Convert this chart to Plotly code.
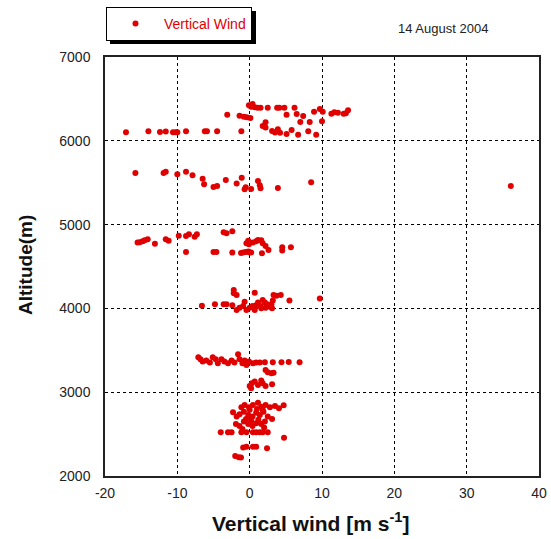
import plotly.graph_objects as go

# ---- data (vertical wind [m/s], altitude [m]) ----
wind_6000 = [-17.1,-14.0,-12.4,-11.6,-10.6,-10.2,-10.0,-8.8,-6.2,-5.9,-4.5,-3.1,-1.15,-1.4,-0.8,-0.4,0.1,-0.1,0.2,0.7,1.1,1.5,2.5,3.8,4.1,4.8,5.1,6.2,6.5,7.4,8.9,9.7,10.1,11.3,11.7,12.2,13.0,13.3,13.6,2.2,1.8,2.2,7.0,8.3,10.0,3.1,3.5,3.9,4.2,5.1,5.8,6.7,8.1,9.2,0.4]
alt_6000 = [6101,6113,6105,6110,6101,6101,6101,6113,6113,6113,6113,6311,6113,6300,6288,6280,6272,6424,6407,6400,6395,6395,6395,6395,6395,6395,6311,6395,6320,6296,6347,6380,6347,6324,6340,6335,6324,6328,6364,6220,6177,6160,6225,6225,6233,6118,6100,6137,6097,6082,6130,6073,6113,6073,6440]

wind_5500 = [-15.8,-11.9,-11.6,-10.0,-8.8,-7.9,-6.5,-6.3,-5.0,-4.5,-3.3,-1.8,-1.1,-0.7,-0.55,0.2,1.15,1.4,1.5,3.9,8.5,36.1]
alt_5500 = [5616,5616,5630,5600,5632,5588,5548,5481,5449,5461,5532,5489,5560,5422,5446,5426,5520,5469,5434,5437,5505,5461]

wind_4800 = [-15.5,-15.2,-14.8,-14.5,-14.1,-13.1,-11.6,-11.2,-9.8,-8.8,-8.4,-7.6,-7.3,-8.8,-5.0,-4.6,-3.6,-3.2,-2.4,-2.4,-1.2,-0.9,-0.55,-0.2,0.0,0.2,-0.45,-0.2,-0.1,0.45,0.9,1.15,1.6,1.8,2.2,2.6,1.7,4.5,4.5,5.7]
alt_4800 = [4785,4790,4801,4813,4825,4770,4825,4808,4868,4865,4885,4856,4885,4674,4674,4674,4908,4896,4920,4666,4660,4668,4672,4680,4668,4668,4777,4808,4765,4785,4801,4817,4813,4777,4745,4698,4658,4730,4690,4730]

wind_4100 = [-6.6,-4.8,-3.6,-3.2,-2.2,-2.2,-1.8,0.7,-2.4,-1.8,-1.4,-0.9,-0.7,-0.45,0.0,0.4,0.7,0.9,1.15,1.5,1.6,1.8,2.1,2.2,2.4,2.8,3.0,3.2,3.1,3.3,3.7,4.3,5.5,9.7]
alt_4100 = [4033,4050,4050,4050,4220,4180,4160,4188,4037,3981,4008,4028,4080,3981,4008,4028,3981,4037,4069,4028,4001,4100,4069,4008,4050,4021,4050,4093,4001,4160,4152,4160,4093,4117]

wind_3300 = [-7.1,-6.8,-6.5,-6.0,-5.5,-5.1,-4.7,-4.4,-3.9,-3.5,-3.0,-2.5,-2.1,-1.6,-1.4,-1.0,-0.7,-0.45,-0.1,0.45,0.9,1.4,2.1,3.2,4.4,5.4,6.9,2.2,2.5,3.0,3.3,0.0,0.3,0.7,1.15,1.6,1.8,2.2,3.1,0.2]
alt_3300 = [3417,3393,3365,3377,3353,3417,3393,3346,3393,3365,3346,3377,3353,3453,3393,3346,3377,3326,3365,3346,3353,3353,3357,3357,3357,3361,3357,3265,3237,3225,3233,3075,3107,3127,3087,3139,3107,3075,3095,3047]

wind_2600 = [-1.15,-0.7,-0.1,0.45,1.15,1.6,2.2,2.8,3.5,4.05,4.7,-2.3,-1.8,-1.4,-0.8,-0.2,0.4,0.9,1.4,1.9,2.5,3.1,-1.9,-1.4,-0.8,-0.2,0.4,0.9,1.6,2.1,-4.0,-3.0,-2.5,-1.15,-0.45,0.45,0.9,1.4,1.8,2.5,4.75,-0.9,-0.45,0.45,0.9,2.4,-2.0,-1.5,-1.2,0.0,1.0,-0.5,1.2,2.0,-1.0,0.2,1.8]
alt_2600 = [2820,2847,2820,2847,2875,2827,2847,2820,2835,2808,2844,2760,2709,2737,2768,2729,2709,2756,2729,2768,2709,2681,2621,2597,2649,2621,2597,2629,2621,2649,2522,2522,2522,2522,2522,2522,2522,2522,2522,2522,2455,2339,2350,2350,2350,2331,2240,2224,2220,2790,2800,2680,2670,2580,2560,2660,2790]

x_tick_vals = [-20, -10, 0, 10, 20, 30, 40]
x_tick_text = ["-20", "-10", "0", "10", "20", "30", "40"]
y_tick_vals = [2000, 3000, 4000, 5000, 6000, 7000]
y_tick_text = ["2000", "3000", "4000", "5000", "6000", "7000"]

wind = wind_6000 + wind_5500 + wind_4800 + wind_4100 + wind_3300 + wind_2600
alt = alt_6000 + alt_5500 + alt_4800 + alt_4100 + alt_3300 + alt_2600

FONT = "Arial, Liberation Sans, sans-serif"
RED = "#e00000"

W, H = 551, 539
L, R, T, B = 105, 12, 57, 63
PW, PH = W - L - R, H - T - B


def px_x(p):
    return (p - L) / PW


def px_y(p):
    return (H - B - p) / PH


fig = go.Figure()
fig.add_trace(go.Scatter(
    x=wind, y=alt, mode="markers", name="Vertical Wind",
    marker=dict(color=RED, size=6, line=dict(width=0)),
))

axis_common = dict(
    showgrid=True, gridcolor="black", gridwidth=1, griddash="dot",
    showline=True, linecolor="#222", linewidth=1.5, mirror=True,
    ticks="", zeroline=False,
    tickfont=dict(family=FONT, size=14, color="#222"),
)

fig.update_layout(
    width=W, height=H,
    margin=dict(l=L, r=R, t=T, b=B, autoexpand=False),
    paper_bgcolor="white", plot_bgcolor="white",
    font=dict(family=FONT, color="#222"),
    xaxis=dict(range=[-20, 40], tickvals=x_tick_vals, ticktext=x_tick_text,
               ticklabelstandoff=3, **axis_common),
    yaxis=dict(range=[2000, 7000], tickvals=y_tick_vals, ticktext=y_tick_text,
               ticklabelstandoff=10, **axis_common),
    showlegend=True,
    legend=dict(x=px_x(106), y=px_y(7), xanchor="left", yanchor="top",
                bgcolor="white", bordercolor="black", borderwidth=1,
                itemwidth=47,
                font=dict(family=FONT, size=14, color=RED)),
)

# legend drop shadow
fig.add_shape(type="rect", xref="paper", yref="paper",
              x0=px_x(110), x1=px_x(256), y0=px_y(44), y1=px_y(11),
              fillcolor="black", line=dict(width=0), layer="below")

# axis titles
fig.add_annotation(text="Vertical wind [m s<sup>-1</sup>]", xref="paper", yref="paper",
                   x=px_x(310), y=px_y(522), xanchor="center", yanchor="middle",
                   showarrow=False,
                   font=dict(family=FONT, size=21, color="#111", weight="bold"))
fig.add_annotation(text="Altitude(m)", xref="paper", yref="paper",
                   x=px_x(25), y=px_y(265), xanchor="center", yanchor="middle",
                   textangle=-90, showarrow=False,
                   font=dict(family=FONT, size=19, color="#111", weight="bold"))

fig.add_annotation(text="14 August 2004", xref="paper", yref="paper",
                   x=px_x(490), y=px_y(28), xanchor="right", yanchor="middle",
                   showarrow=False, font=dict(family=FONT, size=13, color="#222"))

fig.write_html("out.html")
